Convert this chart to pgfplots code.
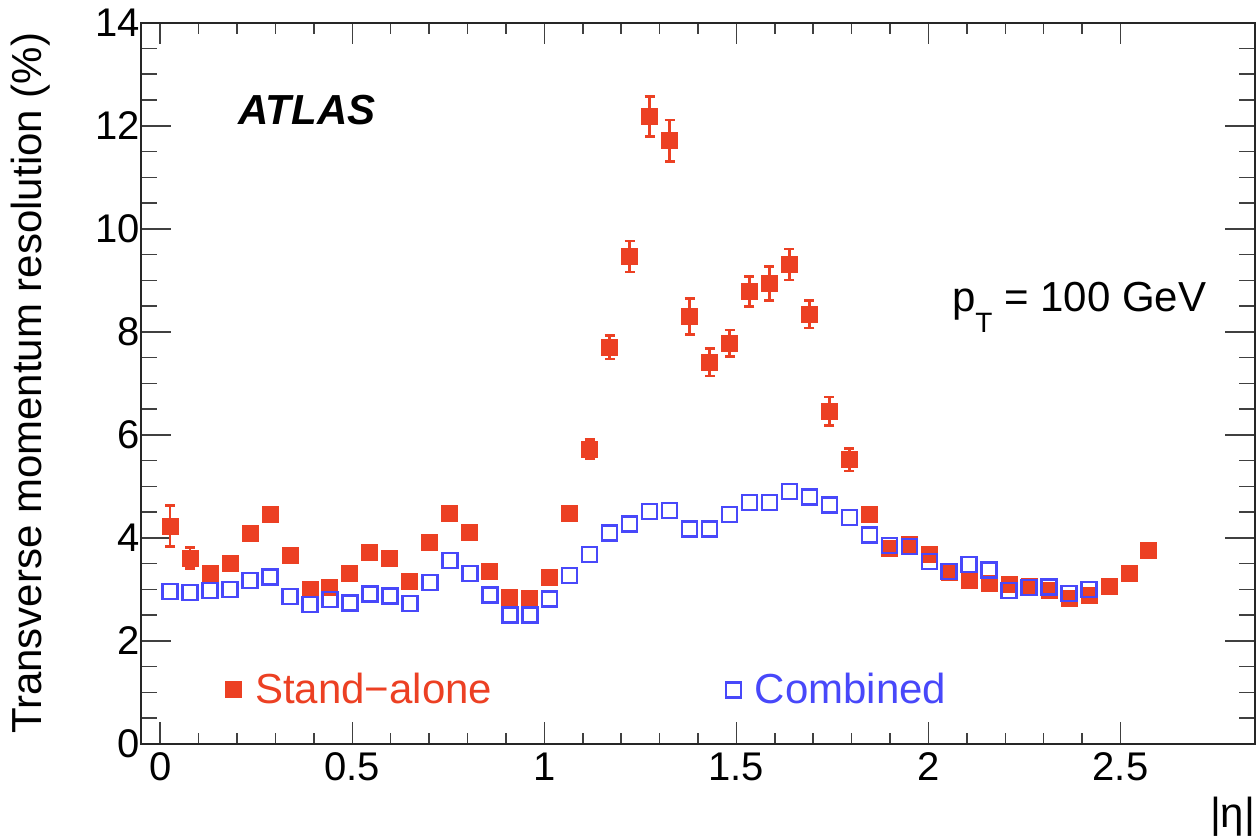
\documentclass[border=0pt]{standalone}
\usepackage{fontspec}
\setmainfont{Liberation Sans}
\usepackage{pgfplots}
\pgfplotsset{compat=1.18}
\definecolor{sared}{RGB}{236,64,35}
\definecolor{cbblue}{RGB}{72,72,250}
\newcommand\fs{\fontsize{16.8}{20}\selectfont}
\newcommand\ts{\fontsize{16}{19}\selectfont}
\begin{document}
\begin{tikzpicture}
\begin{axis}[
  scale only axis, width=445.6pt, height=288.5pt,
  xmin=-0.05, xmax=2.85, ymin=0, ymax=14,
  xtick={0,0.5,1,1.5,2,2.5}, xticklabels={0,0.5,1,1.5,2,2.5},
  ytick={0,2,4,6,8,10,12,14},
  minor x tick num=4, minor y tick num=3,
  tick align=inside, tick pos=both,
  axis line style={line width=0.8pt, black!85},
  every tick/.style={black!75, line width=0.6pt},
  xtick style={/pgfplots/major tick length=8.7pt, /pgfplots/minor tick length=4.5pt},
  ytick style={/pgfplots/major tick length=12pt, /pgfplots/minor tick length=6.5pt},
  tick label style={font=\ts, /pgf/number format/assume math mode=true},
  yticklabel style={xshift=3.2pt},
  ylabel={Transverse momentum resolution (\%)},
  ylabel style={font=\fs, at={(axis description cs:-0.0987,0.5)}, anchor=center},
  xlabel={|η|},
  xlabel style={font=\fs, at={(axis description cs:1,0)}, anchor=north east, xshift=3.6pt, yshift=-17.6pt},
  legend style={at={(axis cs:0.168,1.05)}, anchor=west, draw=none, fill=none, inner sep=0pt,
    font=\fs, legend columns=2, /tikz/every even column/.append style={column sep=91.4pt}},
  legend image code/.code={\draw[#1] plot coordinates {(0cm,0cm)};},
]
\addplot[only marks, mark=square*, mark size=3.2pt, color=sared,
  error bars/.cd, y dir=both, y explicit,
  error bar style={line width=1pt, sared},
  error mark options={rotate=90, mark size=2pt, line width=1pt, sared}]
  table[x=x, y=y, y error=e] {
x y e
0.026 4.23 0.40
0.078 3.61 0.20
0.130 3.31 0.08
0.182 3.51 0.08
0.234 4.08 0.08
0.286 4.46 0.08
0.338 3.65 0.08
0.390 2.99 0.06
0.442 3.03 0.06
0.494 3.30 0.06
0.546 3.72 0.06
0.598 3.60 0.06
0.650 3.15 0.06
0.702 3.91 0.08
0.754 4.48 0.08
0.806 4.10 0.08
0.858 3.34 0.06
0.910 2.85 0.06
0.962 2.83 0.06
1.014 3.23 0.06
1.066 4.48 0.10
1.118 5.72 0.19
1.170 7.70 0.23
1.222 9.46 0.30
1.274 12.18 0.39
1.326 11.71 0.40
1.378 8.30 0.35
1.430 7.41 0.27
1.482 7.78 0.26
1.534 8.78 0.29
1.586 8.94 0.33
1.638 9.31 0.30
1.690 8.34 0.27
1.742 6.46 0.28
1.794 5.52 0.22
1.846 4.45 0.10
1.898 3.80 0.08
1.950 3.87 0.08
2.002 3.67 0.08
2.054 3.33 0.06
2.106 3.18 0.06
2.158 3.12 0.06
2.210 3.10 0.06
2.262 3.05 0.06
2.314 2.98 0.06
2.366 2.83 0.06
2.418 2.88 0.06
2.470 3.06 0.06
2.522 3.31 0.06
2.574 3.76 0.06
};
\addlegendentry{\hspace{3.6pt}\textcolor{sared}{Stand−alone}}
\addplot[only marks, mark=square, mark size=3pt, color=cbblue, mark options={line width=1pt}]
  table[x=x, y=y] {
x y
0.026 2.96
0.078 2.94
0.130 2.98
0.182 3.00
0.234 3.17
0.286 3.24
0.338 2.86
0.390 2.71
0.442 2.80
0.494 2.74
0.546 2.91
0.598 2.87
0.650 2.73
0.702 3.13
0.754 3.56
0.806 3.31
0.858 2.89
0.910 2.50
0.962 2.50
1.014 2.81
1.066 3.27
1.118 3.68
1.170 4.10
1.222 4.27
1.274 4.51
1.326 4.53
1.378 4.17
1.430 4.17
1.482 4.45
1.534 4.69
1.586 4.69
1.638 4.90
1.690 4.79
1.742 4.64
1.794 4.40
1.846 4.06
1.898 3.85
1.950 3.83
2.002 3.54
2.054 3.35
2.106 3.48
2.158 3.38
2.210 2.98
2.262 3.04
2.314 3.05
2.366 2.92
2.418 3.00
};
\addlegendentry{\hspace{3.6pt}\textcolor{cbblue}{Combined}}
\node[anchor=west, inner sep=0pt, font=\fs\bfseries\itshape] at (axis cs:0.2026,12.31) {ATLAS};
\node[anchor=base west, inner sep=0pt, font=\fs] at (axis cs:2.06,8.39) {p\raisebox{-8.4pt}{\fontsize{11.2}{12}\selectfont T} = 100 GeV};
\coordinate (o) at (rel axis cs:0,0);
\end{axis}
\pgfresetboundingbox
\path[use as bounding box] (o) ++(-56.4pt,-38.4pt) rectangle ++(502.8pt,336pt);
\end{tikzpicture}
\end{document}
